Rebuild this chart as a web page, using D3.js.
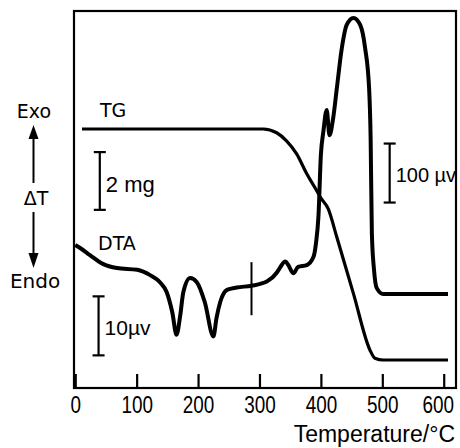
<!DOCTYPE html>
<html>
<head>
<meta charset="utf-8">
<script src="https://cdn.jsdelivr.net/npm/d3@7"></script>
<style>
    body { margin: 0; background: #fff; }
    svg { display: block; }
</style>
</head>
<body>
<div id="chart"></div>
<script>
// temperature axis
const temperatureTicks = [0, 100, 200, 300, 400, 500, 600];

// DTA trace: temperature (°C) and deflection (in units of the 10 µv bar)
const dtaTemperature = [0, 8, 24, 45, 68, 101, 122, 138, 149, 158, 165, 171, 176, 187, 198, 211, 225, 230, 236, 247,
    263, 287, 312, 328, 333, 342, 347, 355, 363, 377, 388, 392, 396, 400, 404, 409.5, 414, 420, 426, 434,
    442, 453, 464, 472, 478.5, 481, 483, 486.5, 491, 501.5, 534, 607];
const dtaSignal = [8.3, 7.8, 6.6, 5.1, 4.4, 4.1, 3.2, 2.0, 0.3, -3.1, -6.9, -3.6, 0.3, 2.7, 2.0, -1.4, -7.2, -4.1, -1.4, 0.7,
    1.1, 1.4, 2.1, 3.6, 4.4, 5.5, 4.9, 3.5, 4.6, 4.9, 6.3, 8.6, 13.1, 23.6, 27.5, 31.2, 26.9, 29.8, 34.9, 41.6,
    45.6, 46.8, 45.6, 41.7, 34.9, 26.4, 10.3, 4.1, 1.0, 0, 0, 0];

// TG trace: temperature (°C) and mass change (mg)
const tgTemperature = [11, 252, 306, 328, 344, 360.5, 377, 396, 399, 412, 426, 453, 480, 488, 501.5, 607];
const tgMassChange = [0, 0, 0, -0.13, -0.41, -0.86, -1.55, -2.24, -2.36, -2.77, -3.75, -5.7, -7.66, -7.94, -8.0, -8.0];

// sensitivity change mark on the DTA trace
const rangeChangeTemperature = 287;


class ThermalPlot {
    constructor(width, height) {
        this.width = width;
        this.height = height;
        this.left = 74;
        this.right = 456;
        this.top = 11;
        this.bottom = 388;
    }

    init(root) {
        let svg = this.createSVGContainer(root);
        this.createFrame(svg);
        this.createAxis(svg);
        this.createCurves(svg);
        this.createScaleBars(svg);
        this.createLabels(svg);
    }

    xScale() {
        return d3.scaleLinear().domain([-2, 620]).range([this.left, this.right]);
    }

    tgScale() {
        return d3.scaleLinear().domain([0, -8]).range([129, 360]);
    }

    dtaScale() {
        return d3.scaleLinear().domain([0, 10]).range([294, 235]);
    }

    createSVGContainer(root) {
        return d3.select(root)
            .append("svg")
            .attr("width", this.width)
            .attr("height", this.height)
            .attr("viewBox", "0 0 " + this.width + " " + this.height);
    }

    createFrame(svg) {
        svg.append("rect")
            .attr("x", this.left)
            .attr("y", this.top)
            .attr("width", this.right - this.left)
            .attr("height", this.bottom - this.top)
            .attr("fill", "none")
            .attr("stroke", "#000")
            .attr("stroke-width", 2.2);
    }

    createAxis(svg) {
        let axis = d3.axisBottom(this.xScale())
            .tickValues(temperatureTicks)
            .tickSizeInner(-14)
            .tickSizeOuter(0)
            .tickPadding(10);

        let g = svg.append("g")
            .attr("transform", "translate(0," + this.bottom + ")")
            .call(axis);

        g.select(".domain").remove();
        g.selectAll(".tick line").attr("stroke", "#000").attr("stroke-width", 2.2);
        // the original digits are tall and narrow; last label sits a bit left of its tick
        g.selectAll(".tick text")
            .attr("y", 25)
            .attr("dy", 0)
            .attr("dx", function (d) { return d === 600 ? -6 : 0; })
            .attr("fill", "#000")
            .attr("textLength", function (d) { return String(d).length * 10.5; })
            .attr("lengthAdjust", "spacingAndGlyphs")
            .style("font-family", "'Liberation Sans', sans-serif")
            .style("font-size", "23px");

        svg.append("text")
            .attr("x", 455)
            .attr("y", 442)
            .attr("text-anchor", "end")
            .style("font-family", "'Liberation Sans', sans-serif")
            .style("font-size", "23px")
            .text("Temperature/°C");
    }

    createCurves(svg) {
        let x = this.xScale();
        let tg = this.tgScale();
        let dta = this.dtaScale();

        let dtaLine = d3.line()
            .x(function (d) { return x(d[0]); })
            .y(function (d) { return dta(d[1]); })
            .curve(d3.curveMonotoneX);

        let tgLine = d3.line()
            .x(function (d) { return x(d[0]); })
            .y(function (d) { return tg(d[1]); })
            .curve(d3.curveMonotoneX);

        svg.append("path")
            .attr("d", tgLine(d3.zip(tgTemperature, tgMassChange)))
            .attr("fill", "none")
            .attr("stroke", "#000")
            .attr("stroke-width", 3.2)
            .attr("stroke-linejoin", "round");

        svg.append("path")
            .attr("d", dtaLine(d3.zip(dtaTemperature, dtaSignal)))
            .attr("fill", "none")
            .attr("stroke", "#000")
            .attr("stroke-width", 4)
            .attr("stroke-linejoin", "round");

        svg.append("line")
            .attr("x1", x(rangeChangeTemperature))
            .attr("x2", x(rangeChangeTemperature))
            .attr("y1", dta(5.4))
            .attr("y2", dta(-3.6))
            .attr("stroke", "#000")
            .attr("stroke-width", 2);
    }

    scaleBar(svg, cx, y1, y2) {
        let g = svg.append("g")
            .attr("stroke", "#000")
            .attr("stroke-width", 2.2);
        g.append("line").attr("x1", cx).attr("x2", cx).attr("y1", y1).attr("y2", y2);
        g.append("line").attr("x1", cx - 6).attr("x2", cx + 6).attr("y1", y1).attr("y2", y1);
        g.append("line").attr("x1", cx - 6).attr("x2", cx + 6).attr("y1", y2).attr("y2", y2);
    }

    createScaleBars(svg) {
        let x = this.xScale();
        let tg = this.tgScale();
        let dta = this.dtaScale();

        this.scaleBar(svg, x(40), tg(-0.8), tg(-2.8));
        this.scaleBar(svg, x(38), dta(-0.4), dta(-10.4));
        this.scaleBar(svg, x(512), dta(25.5), dta(15.5));

        let font = "'Liberation Sans', sans-serif";
        svg.append("text").attr("x", x(40) + 6).attr("y", 192)
            .style("font-family", font).style("font-size", "22px").text("2 mg");
        svg.append("text").attr("x", x(38) + 6).attr("y", 335)
            .style("font-family", font).style("font-size", "21px").text("10µv");
        svg.append("text").attr("x", x(512) + 6).attr("y", 182)
            .style("font-family", font).style("font-size", "20px").text("100 µv");
    }

    createLabels(svg) {
        let font = "'DejaVu Sans', sans-serif";

        svg.append("text").attr("x", 100).attr("y", 117)
            .style("font-family", font).style("font-size", "19px").text("TG");
        svg.append("text").attr("x", 98).attr("y", 250)
            .style("font-family", font).style("font-size", "19px").text("DTA");

        svg.append("text").attr("x", 34).attr("y", 118).attr("text-anchor", "middle")
            .style("font-family", font).style("font-size", "19px").text("Exo");
        svg.append("text").attr("x", 36).attr("y", 205).attr("text-anchor", "middle")
            .style("font-family", font).style("font-size", "19px").text("ΔT");
        svg.append("text").attr("x", 35).attr("y", 288).attr("text-anchor", "middle")
            .style("font-family", font).style("font-size", "20px").text("Endo");

        // Exo / Endo arrows
        let arrows = svg.append("g").attr("stroke", "#000").attr("stroke-width", 2);
        arrows.append("line").attr("x1", 33.5).attr("x2", 33.5).attr("y1", 136).attr("y2", 183);
        arrows.append("line").attr("x1", 33.5).attr("x2", 33.5).attr("y1", 212).attr("y2", 255);
        svg.append("path")
            .attr("d", "M33.5,125L38.5,139L28.5,139Z")
            .attr("fill", "#000");
        svg.append("path")
            .attr("d", "M33.5,268L38.5,253L28.5,253Z")
            .attr("fill", "#000");
    }
}

let plot = new ThermalPlot(460, 448);
plot.init("#chart");
</script>
</body>
</html>
